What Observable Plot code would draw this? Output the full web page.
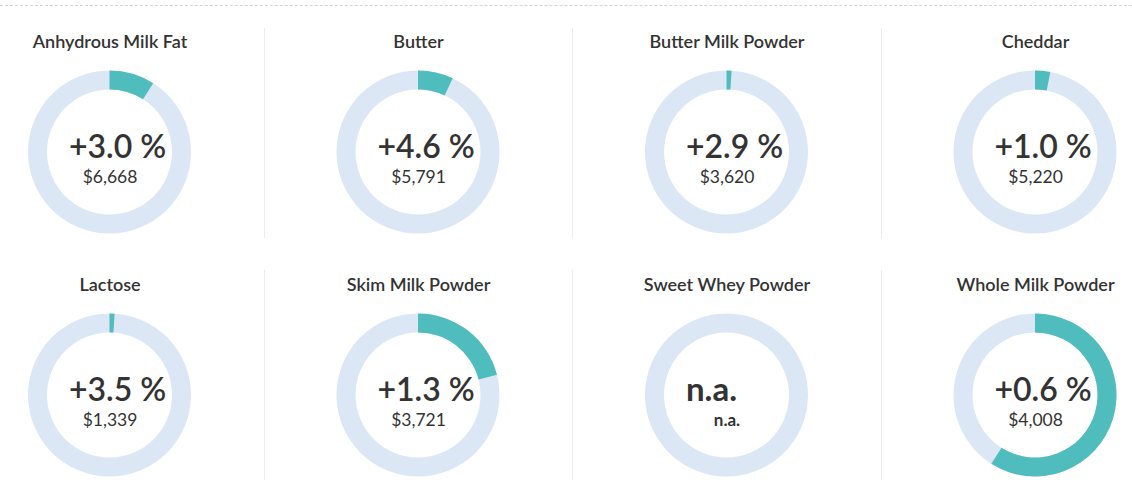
<!DOCTYPE html>
<html>
<head>
<meta charset="utf-8">
<script src="https://cdn.jsdelivr.net/npm/d3@7"></script>
<script src="https://cdn.jsdelivr.net/npm/@observablehq/plot@0.6"></script>
<style>
  html, body { margin: 0; padding: 0; background: #fff; }
  #wrap { position: relative; width: 1132px; height: 480px; overflow: hidden; font-family: Lato, "Open Sans", sans-serif; }
  #topline { position: absolute; left: 0; right: 0; top: 5px; border-top: 1px dashed #d4d4d4; }
  .sep { position: absolute; width: 1px; background: #ececec; }
  #chart { position: absolute; left: 0; top: 0; }
</style>
</head>
<body>
<div id="wrap">
  <div id="topline"></div>
  <div id="chart"></div>
</div>
<script>
// ---- data ----
const products = ["Anhydrous Milk Fat", "Butter", "Butter Milk Powder", "Cheddar",
                  "Lactose", "Skim Milk Powder", "Sweet Whey Powder", "Whole Milk Powder"];
const changes  = ["+3.0 %", "+4.6 %", "+2.9 %", "+1.0 %", "+3.5 %", "+1.3 %", "n.a.", "+0.6 %"];
const prices   = ["$6,668", "$5,791", "$3,620", "$5,220", "$1,339", "$3,721", "n.a.", "$4,008"];
const shares   = [9, 7, 1, 3, 1, 21, 0, 59];   // share of the ring (%)

const cols = 4;
const data = products.map((name, i) => ({
  name, change: changes[i], price: prices[i], share: shares[i],
  col: i % cols, row: Math.floor(i / cols), na: changes[i] === "n.a."
}));

const teal = "#4fbcbd";
const ringColor = "#dce7f5";
const textColor = "#333333";
const outerR = 81.5, innerR = 62.5;

// separators between columns (layout decoration)
const wrap = document.getElementById("wrap");
[[28, 238], [270, 480]].forEach(([t, b]) => {
  [263.5, 572, 880.5].forEach(x => {
    const d = document.createElement("div");
    d.className = "sep";
    d.style.left = x + "px"; d.style.top = t + "px"; d.style.height = (b - t) + "px";
    wrap.appendChild(d);
  });
});

// custom donut mark drawn through Plot's x / y scales
function donuts(rows) {
  return (index, scales) => {
    const g = d3.create("svg:g");
    const angle = d3.scaleLinear([0, 100], [0, 2 * Math.PI]);
    const arc = d3.arc().innerRadius(innerR).outerRadius(outerR);
    const sel = g.selectAll("g").data(rows).join("g")
      .attr("transform", d => `translate(${scales.x(d.col)},${scales.y(d.row)})`);
    sel.append("path")
      .attr("fill", ringColor)
      .attr("d", arc({startAngle: 0, endAngle: 2 * Math.PI}));
    sel.filter(d => d.share > 0).append("path")
      .attr("fill", teal)
      .attr("d", d => arc({startAngle: 0, endAngle: angle(d.share)}));
    return g.node();
  };
}

const valued = data.filter(d => !d.na);
const missing = data.filter(d => d.na);
const font = "Lato, 'Open Sans', sans-serif";

const chart = Plot.plot({
  width: 1132,
  height: 480,
  margin: 0,
  x: {type: "linear", domain: [0, 3], range: [109.5, 1035], axis: null},
  y: {type: "linear", domain: [0, 1], range: [152, 395], axis: null},
  style: {fontFamily: font, background: "transparent", color: textColor},
  marks: [
    donuts(data),
    Plot.text(data, {x: "col", y: "row", text: "name", dy: -105, lineAnchor: "bottom",
      fontSize: 18, fontWeight: 600, fill: textColor}),
    Plot.text(valued, {x: "col", y: "row", text: "change", dx: -41, dy: 5, lineAnchor: "bottom",
      textAnchor: "start", fontSize: 32, fontWeight: 600, fill: textColor}),
    Plot.text(valued, {x: "col", y: "row", text: "price", dy: 30.5, lineAnchor: "bottom",
      fontSize: 17.5, fill: textColor}),
    Plot.text(missing, {x: "col", y: "row", text: "change", dx: -41, dy: 5, lineAnchor: "bottom",
      textAnchor: "start", fontSize: 33, fontWeight: 700, fill: textColor}),
    Plot.text(missing, {x: "col", y: "row", text: "price", dy: 30.5, lineAnchor: "bottom",
      fontSize: 17, fontWeight: 700, fill: textColor})
  ]
});
document.getElementById("chart").appendChild(chart);
</script>
</body>
</html>
